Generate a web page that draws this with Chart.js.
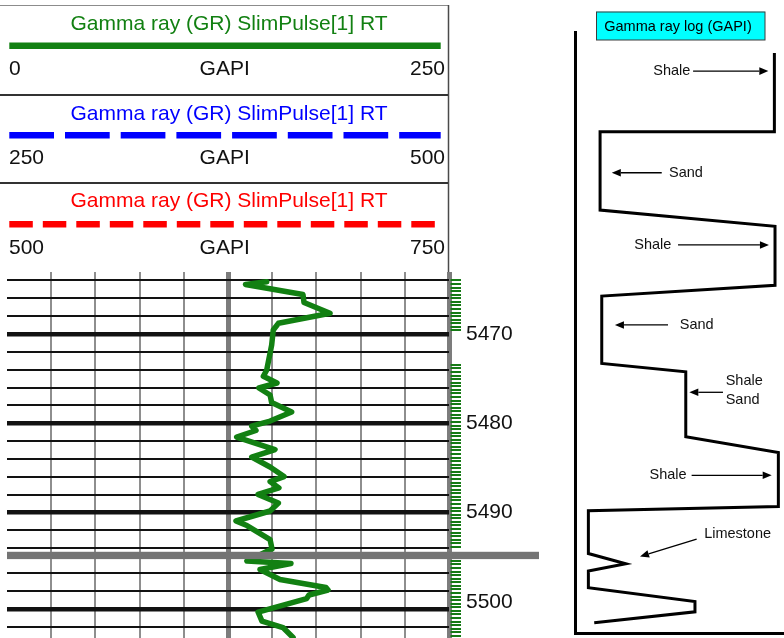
<!DOCTYPE html>
<html>
<head>
<meta charset="utf-8">
<script src="https://cdn.jsdelivr.net/npm/chart.js@4.4.1/dist/chart.umd.min.js"></script>
<style>
  html, body { margin: 0; padding: 0; background: #fff; width: 784px; height: 638px; overflow: hidden; }
  #log { position: absolute; left: 0; top: 0; }
  #sketch { position: absolute; left: 560px; top: 0; }
</style>
</head>
<body>
<canvas id="log" width="560" height="638"></canvas>
<canvas id="sketch" width="224" height="638"></canvas>
<script>
// ---- Gamma ray curve: measured depth (ft) and GR reading (GAPI) ----
const grDepths = [5464.14, 5464.45, 5465.57, 5466.47, 5467.68, 5468.80, 5469.55, 5471.23, 5474.03, 5474.74,
                  5475.49, 5476.05, 5476.83, 5477.68, 5478.74, 5479.75, 5480.31, 5480.81, 5481.54, 5482.94,
                  5483.78, 5484.90, 5485.97, 5486.53, 5487.25, 5487.98, 5488.94, 5489.83, 5490.95, 5491.46,
                  5493.03, 5494.09, 5494.61, 5494.89, 5495.57, 5496.69, 5497.58, 5497.86, 5498.42, 5498.82,
                  5500.33, 5501.34, 5502.07, 5503.19];
const grValues = [146.9, 134.9, 167.4, 168.0, 182.7, 153.5, 150.6, 149.7, 146.9, 145.0,
                  152.7, 142.5, 148.8, 149.7, 161.0, 148.8, 138.4, 140.8, 129.9, 151.6,
                  138.4, 148.8, 156.7, 148.8, 153.8, 142.0, 153.5, 148.8, 129.5, 135.7,
                  148.8, 149.9, 135.7, 160.6, 143.1, 154.4, 180.4, 181.6, 170.8, 169.5,
                  142.0, 144.2, 156.1, 161.8];

// Depth grid (every 2 ft, heavy every 10 ft) and depth annotations
const gridDepths = [5464, 5466, 5468, 5470, 5472, 5474, 5476, 5478, 5480, 5482, 5484, 5486, 5488, 5490,
                    5492, 5494, 5496, 5498, 5500, 5502];
const depthLabels = [5470, 5480, 5490, 5500];

// Header scales of the three GR curve presentations
const headerTitle = 'Gamma ray (GR) SlimPulse[1] RT';
const headerUnit = 'GAPI';
const headerMin = [0, 250, 500];
const headerMax = [250, 500, 750];

// Depth ranges carrying sample marks (ft) and the sampling interval
const sampleRanges = [[5464.0, 5469.8], [5473.45, 5494.1], [5494.6, 5503.2]];
const SAMPLE_STEP = 0.4;

// Track window and the splice between the two log sections
const DEPTH_TOP = 5463.05;
const DEPTH_BOTTOM = 5503.24;
const BREAK_DEPTH = 5494.4;
const BREAK_GAP = 0.82;

// ---- Idealised gamma ray response (relative units 0-100) ----
const profileX = [95.4, 95.4, 12.0, 12.0, 95.7, 95.7, 12.8, 12.8, 53.0, 53.0,
                  97.3, 97.3, 6.4, 6.4, 24.3, 6.4, 6.4, 57.4, 57.4, 9.2];
const profileY = [3.5, 16.6, 16.6, 29.6, 32.3, 42.1, 43.9, 55.1, 56.5, 67.3,
                  69.9, 78.9, 79.6, 86.7, 88.4, 89.6, 92.4, 94.7, 96.4, 98.2];
const lithLabel = ['Shale', 'Sand', 'Shale', 'Sand', 'Shale', 'Sand', 'Shale', 'Limestone'];
const lithLabelX = [46.3, 53.1, 37.2, 58.2, 72.1, 72.1, 44.5, 77.8];
const lithLabelY = [6.5, 23.4, 35.4, 48.7, 58.1, 61.1, 73.7, 83.5];
const lithAlign = ['center', 'center', 'center', 'center', 'left', 'left', 'center', 'center'];
const arrowFromX = [56.5, 41.5, 49.3, 44.5, 70.8, 55.8, 58.2];
const arrowFromY = [6.5, 23.4, 35.4, 48.7, 59.9, 73.7, 84.3];
const arrowToX = [92.5, 17.6, 92.8, 19.1, 54.7, 94.1, 31.1];
const arrowToY = [6.5, 23.4, 35.4, 48.7, 59.9, 73.7, 87.2];
const sketchTitle = 'Gamma ray log (GAPI)';

const FONT = '"Liberation Sans", Arial, Helvetica, sans-serif';
const GR_GREEN = 'rgb(18,128,18)';
Chart.defaults.font.family = FONT;

// depth -> track coordinate (the lower section sits below the splice bar)
function toTrack(d) { return d < BREAK_DEPTH ? d : d + BREAK_GAP; }

function zeroPadding(s) { s.paddingTop = 0; s.paddingBottom = 0; s.paddingLeft = 0; s.paddingRight = 0; }

// Header panels above the track: curve title, line style and scale
const headerPlugin = {
  id: 'logHeader',
  beforeDraw(chart) {
    const ctx = chart.ctx;
    const top = chart.chartArea.top;
    const colors = [GR_GREEN, '#0000ff', '#ff0000'];
    const dashes = [[], [44.7, 11], [23.5, 10]];
    const titleBase = [30, 120, 207];
    const lineY = [45.7, 135.3, 224.3];
    const labelBase = [75, 164, 254];
    ctx.save();
    ctx.strokeStyle = '#8c8c8c'; ctx.lineWidth = 1;
    ctx.beginPath(); ctx.moveTo(0, 5.5); ctx.lineTo(449, 5.5); ctx.stroke();
    ctx.strokeStyle = '#4a4a4a'; ctx.lineWidth = 1.5;
    ctx.beginPath(); ctx.moveTo(448.5, 5); ctx.lineTo(448.5, top); ctx.stroke();
    ctx.strokeStyle = '#333'; ctx.lineWidth = 2;
    [95, 183].forEach(y => { ctx.beginPath(); ctx.moveTo(0, y); ctx.lineTo(448, y); ctx.stroke(); });
    ctx.font = '21px ' + FONT;
    ctx.textBaseline = 'alphabetic';
    for (let i = 0; i < 3; i++) {
      ctx.fillStyle = colors[i];
      ctx.textAlign = 'center';
      ctx.fillText(headerTitle, 229, titleBase[i]);
      ctx.strokeStyle = colors[i];
      ctx.lineWidth = 6.5;
      ctx.lineCap = 'butt';
      ctx.setLineDash(dashes[i]);
      ctx.beginPath(); ctx.moveTo(9.3, lineY[i]); ctx.lineTo(440.7, lineY[i]); ctx.stroke();
      ctx.setLineDash([]);
      ctx.fillStyle = '#111';
      ctx.textAlign = 'left';
      ctx.fillText(String(headerMin[i]), 9, labelBase[i]);
      ctx.textAlign = 'center';
      ctx.fillText(headerUnit, 224.7, labelBase[i]);
      ctx.textAlign = 'right';
      ctx.fillText(String(headerMax[i]), 445, labelBase[i]);
    }
    ctx.restore();
  }
};

// Sample marks beside the track and the splice bar between sections
const trackPlugin = {
  id: 'trackMarks',
  afterDatasetsDraw(chart) {
    const { ctx, chartArea } = chart;
    const y = chart.scales.y;
    ctx.save();
    ctx.strokeStyle = '#167a16';
    ctx.lineWidth = 2;
    ctx.beginPath();
    sampleRanges.forEach(([a, b]) => {
      for (let d = a; d <= b + 1e-6; d += SAMPLE_STEP) {
        const py = Math.round(y.getPixelForValue(toTrack(d)));
        ctx.moveTo(chartArea.right + 1.5, py);
        ctx.lineTo(chartArea.right + 12, py);
      }
    });
    ctx.stroke();
    const y0 = y.getPixelForValue(BREAK_DEPTH);
    const y1 = y.getPixelForValue(BREAK_DEPTH + BREAK_GAP);
    ctx.fillStyle = '#747474';
    ctx.fillRect(chartArea.left, y0, chartArea.right + 90 - chartArea.left, y1 - y0);
    ctx.restore();
  }
};

new Chart(document.getElementById('log'), {
  type: 'scatter',
  data: {
    datasets: [{
      label: headerTitle,
      data: grValues.map((v, i) => ({ x: v, y: toTrack(grDepths[i]) })),
      showLine: true,
      borderColor: GR_GREEN,
      borderWidth: 5.5,
      borderJoinStyle: 'round',
      borderCapStyle: 'round',
      pointRadius: 0,
      tension: 0
    }]
  },
  options: {
    responsive: false,
    animation: false,
    devicePixelRatio: 1,
    layout: { padding: { top: 272, left: 0, right: 0, bottom: 0 } },
    plugins: { legend: { display: false }, tooltip: { enabled: false } },
    scales: {
      x: {
        type: 'linear', position: 'bottom', min: 0, max: 250,
        ticks: { display: false, stepSize: 25 },
        grid: {
          drawTicks: false,
          color: c => (c.tick && (c.tick.value === 125 || c.tick.value === 250)) ? '#7c7c7c' : '#8e8e8e',
          lineWidth: c => {
            if (!c.tick || c.tick.value === 0) return 0;
            return (c.tick.value === 125 || c.tick.value === 250) ? 5 : 2;
          }
        },
        border: { display: false },
        afterFit: s => { s.height = 0; zeroPadding(s); }
      },
      y: {
        type: 'linear', position: 'left', reverse: true, z: -1,
        min: DEPTH_TOP, max: toTrack(DEPTH_BOTTOM),
        afterBuildTicks: s => { s.ticks = gridDepths.map(d => ({ value: toTrack(d) })); },
        ticks: { display: false },
        grid: {
          drawTicks: false,
          color: '#121212',
          lineWidth: c => {
            const d = gridDepths[c.index];
            return (d !== undefined && d % 10 === 0) ? 4.5 : 2;
          }
        },
        border: { display: false },
        afterFit: s => { s.width = 7; zeroPadding(s); }
      },
      y2: {
        type: 'linear', position: 'right', reverse: true,
        min: DEPTH_TOP, max: toTrack(DEPTH_BOTTOM),
        afterBuildTicks: s => { s.ticks = depthLabels.map(v => ({ value: v })); },
        ticks: {
          padding: 17, color: '#111', font: { size: 21 },
          autoSkip: false,
          callback: v => String(v)
        },
        grid: { display: false, drawTicks: false },
        border: { display: false },
        afterFit: s => { s.width = 111; zeroPadding(s); }
      }
    }
  },
  plugins: [headerPlugin, trackPlugin]
});

// Arrow with a filled head at (x1, y1)
function drawArrow(ctx, x0, y0, x1, y1) {
  const ang = Math.atan2(y1 - y0, x1 - x0);
  const L = 9, W = 3.8;
  const bx = x1 - L * Math.cos(ang), by = y1 - L * Math.sin(ang);
  ctx.beginPath(); ctx.moveTo(x0, y0); ctx.lineTo(bx, by); ctx.stroke();
  ctx.beginPath();
  ctx.moveTo(x1, y1);
  ctx.lineTo(bx - W * Math.sin(ang), by + W * Math.cos(ang));
  ctx.lineTo(bx + W * Math.sin(ang), by - W * Math.cos(ang));
  ctx.closePath(); ctx.fill();
}

// Title box, lithology labels and pointers for the idealised response
const sketchPlugin = {
  id: 'sketchNotes',
  afterDatasetsDraw(chart) {
    const ctx = chart.ctx;
    const { x, y } = chart.scales;
    ctx.save();
    ctx.fillStyle = '#00ffff';
    ctx.fillRect(36, 11.7, 169, 28.3);
    ctx.strokeStyle = '#3c3c3c'; ctx.lineWidth = 1;
    ctx.strokeRect(36.5, 12, 168.5, 28);
    ctx.fillStyle = '#000';
    ctx.font = '14.5px ' + FONT;
    ctx.textAlign = 'center'; ctx.textBaseline = 'middle';
    ctx.fillText(sketchTitle, 118, 26.5);
    ctx.fillStyle = '#111';
    lithLabel.forEach((t, i) => {
      ctx.textAlign = lithAlign[i];
      ctx.fillText(t, x.getPixelForValue(lithLabelX[i]), y.getPixelForValue(lithLabelY[i]));
    });
    ctx.strokeStyle = '#000'; ctx.fillStyle = '#000'; ctx.lineWidth = 1.3;
    arrowFromX.forEach((fx, i) => {
      drawArrow(ctx,
        x.getPixelForValue(fx), y.getPixelForValue(arrowFromY[i]),
        x.getPixelForValue(arrowToX[i]), y.getPixelForValue(arrowToY[i]));
    });
    ctx.restore();
  }
};

new Chart(document.getElementById('sketch'), {
  type: 'scatter',
  data: {
    datasets: [{
      label: sketchTitle,
      data: profileX.map((v, i) => ({ x: v, y: profileY[i] })),
      showLine: true,
      borderColor: '#000',
      borderWidth: 3,
      borderJoinStyle: 'miter',
      pointRadius: 0,
      tension: 0
    }]
  },
  options: {
    responsive: false,
    animation: false,
    devicePixelRatio: 1,
    layout: { padding: { top: 32, left: 0, right: 0, bottom: 0 } },
    plugins: { legend: { display: false }, tooltip: { enabled: false } },
    scales: {
      x: {
        type: 'linear', min: 0, max: 100,
        ticks: { display: false },
        grid: { display: false, drawTicks: false },
        border: { display: true, color: '#000', width: 3 },
        afterFit: s => { s.height = 4.5; zeroPadding(s); }
      },
      y: {
        type: 'linear', min: 0, max: 100, reverse: true,
        ticks: { display: false },
        grid: { display: false, drawTicks: false },
        border: { display: true, color: '#000', width: 3 },
        afterFit: s => { s.width = 15; zeroPadding(s); }
      }
    }
  },
  plugins: [sketchPlugin]
});
</script>
</body>
</html>
